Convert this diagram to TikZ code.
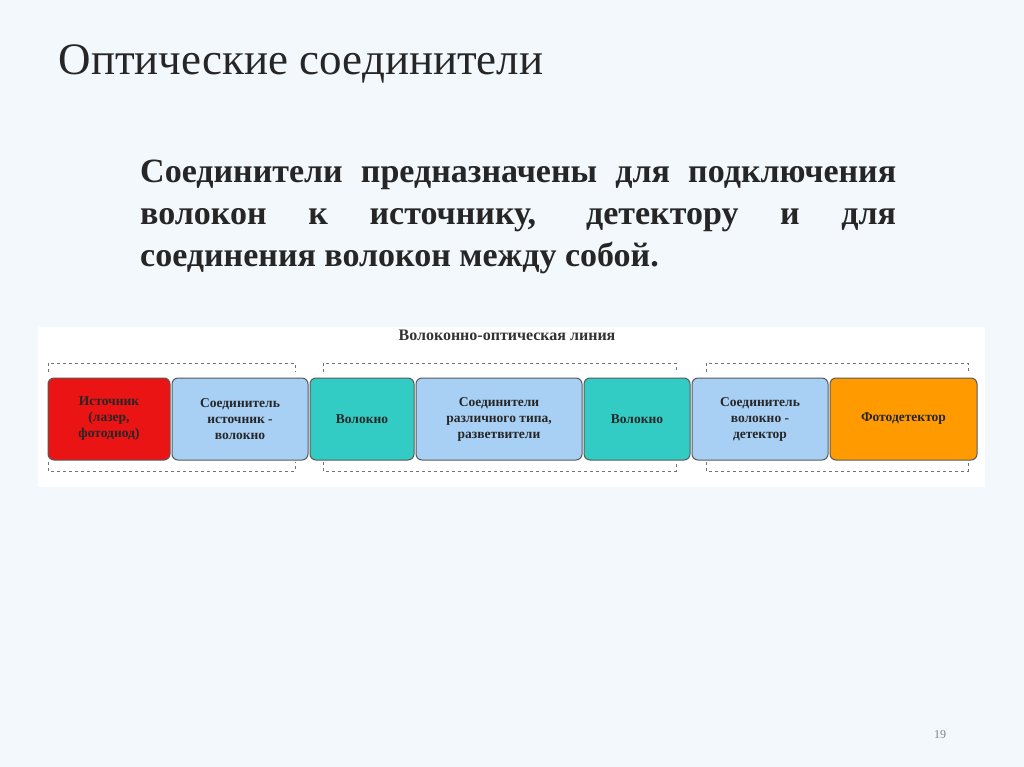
\documentclass[tikz,border=0pt]{standalone}
\usepackage{fontspec}
\setmainfont{Liberation Serif}
\begin{document}
\begin{tikzpicture}[x=1pt,y=-1pt,
 blk/.style={draw=black!65,line width=1pt,rounded corners=6pt,align=center,inner sep=0pt,font=\bfseries\fontsize{13.5}{16}\selectfont,text=black!85},
 grp/.style={draw=black!55,dashed,line width=0.9pt}]
\useasboundingbox (0,0) rectangle (1024,767);
\fill[fill={rgb,255:red,243;green,248;blue,253}] (0,0) rectangle (1024,767);
\node[anchor=west,font=\fontsize{45}{52}\selectfont,text=black!85] (title) at (55,64) {Оптические соединители};
\node[anchor=north west,text width=756pt,align=justify,inner sep=0pt,font=\bfseries\fontsize{34}{42}\selectfont,text=black!85] (para) at (140,160)
 {Соединители предназначены для подключения\linebreak волокон к источнику, детектору и для\linebreak соединения волокон между собой.};
\fill[white] (38,327) rectangle (985,487);
\node[font=\bfseries\fontsize{16}{18}\selectfont,text=black!80] (dtitle) at (507,335) {Волоконно-оптическая линия};
\draw[grp] (48,372) -- (48,363) -- (295,363) -- (295,372);
\draw[grp] (48,462) -- (48,471) -- (295,471) -- (295,462);
\draw[grp] (323,372) -- (323,363) -- (676,363) -- (676,372);
\draw[grp] (323,462) -- (323,471) -- (676,471) -- (676,462);
\draw[grp] (706,372) -- (706,363) -- (968,363) -- (968,372);
\draw[grp] (706,462) -- (706,471) -- (968,471) -- (968,462);
\node[blk,fill={rgb,255:red,235;green,20;blue,20},minimum width=122pt,minimum height=82pt] (src) at (109,419) {Источник\\(лазер,\\фотодиод)};
\node[blk,fill={rgb,255:red,168;green,208;blue,245},minimum width=136pt,minimum height=82pt] (c1) at (240,419) {Соединитель\\источник -\\волокно};
\node[blk,fill={rgb,255:red,50;green,204;blue,196},minimum width=104pt,minimum height=82pt] (f1) at (362,419) {Волокно};
\node[blk,fill={rgb,255:red,168;green,208;blue,245},minimum width=166pt,minimum height=82pt] (c2) at (499,419) {Соединители\\различного типа,\\разветвители};
\node[blk,fill={rgb,255:red,50;green,204;blue,196},minimum width=106pt,minimum height=82pt] (f2) at (637,419) {Волокно};
\node[blk,fill={rgb,255:red,168;green,208;blue,245},minimum width=136pt,minimum height=82pt] (c3) at (760,419) {Соединитель\\волокно -\\детектор};
\node[blk,fill={rgb,255:red,255;green,154;blue,0},minimum width=147pt,minimum height=82pt] (det) at (903.5,419) {Фотодетектор};
\node[font=\fontsize{12}{14}\selectfont,text=black!50] (pg) at (940,735) {19};
\end{tikzpicture}
\end{document}
